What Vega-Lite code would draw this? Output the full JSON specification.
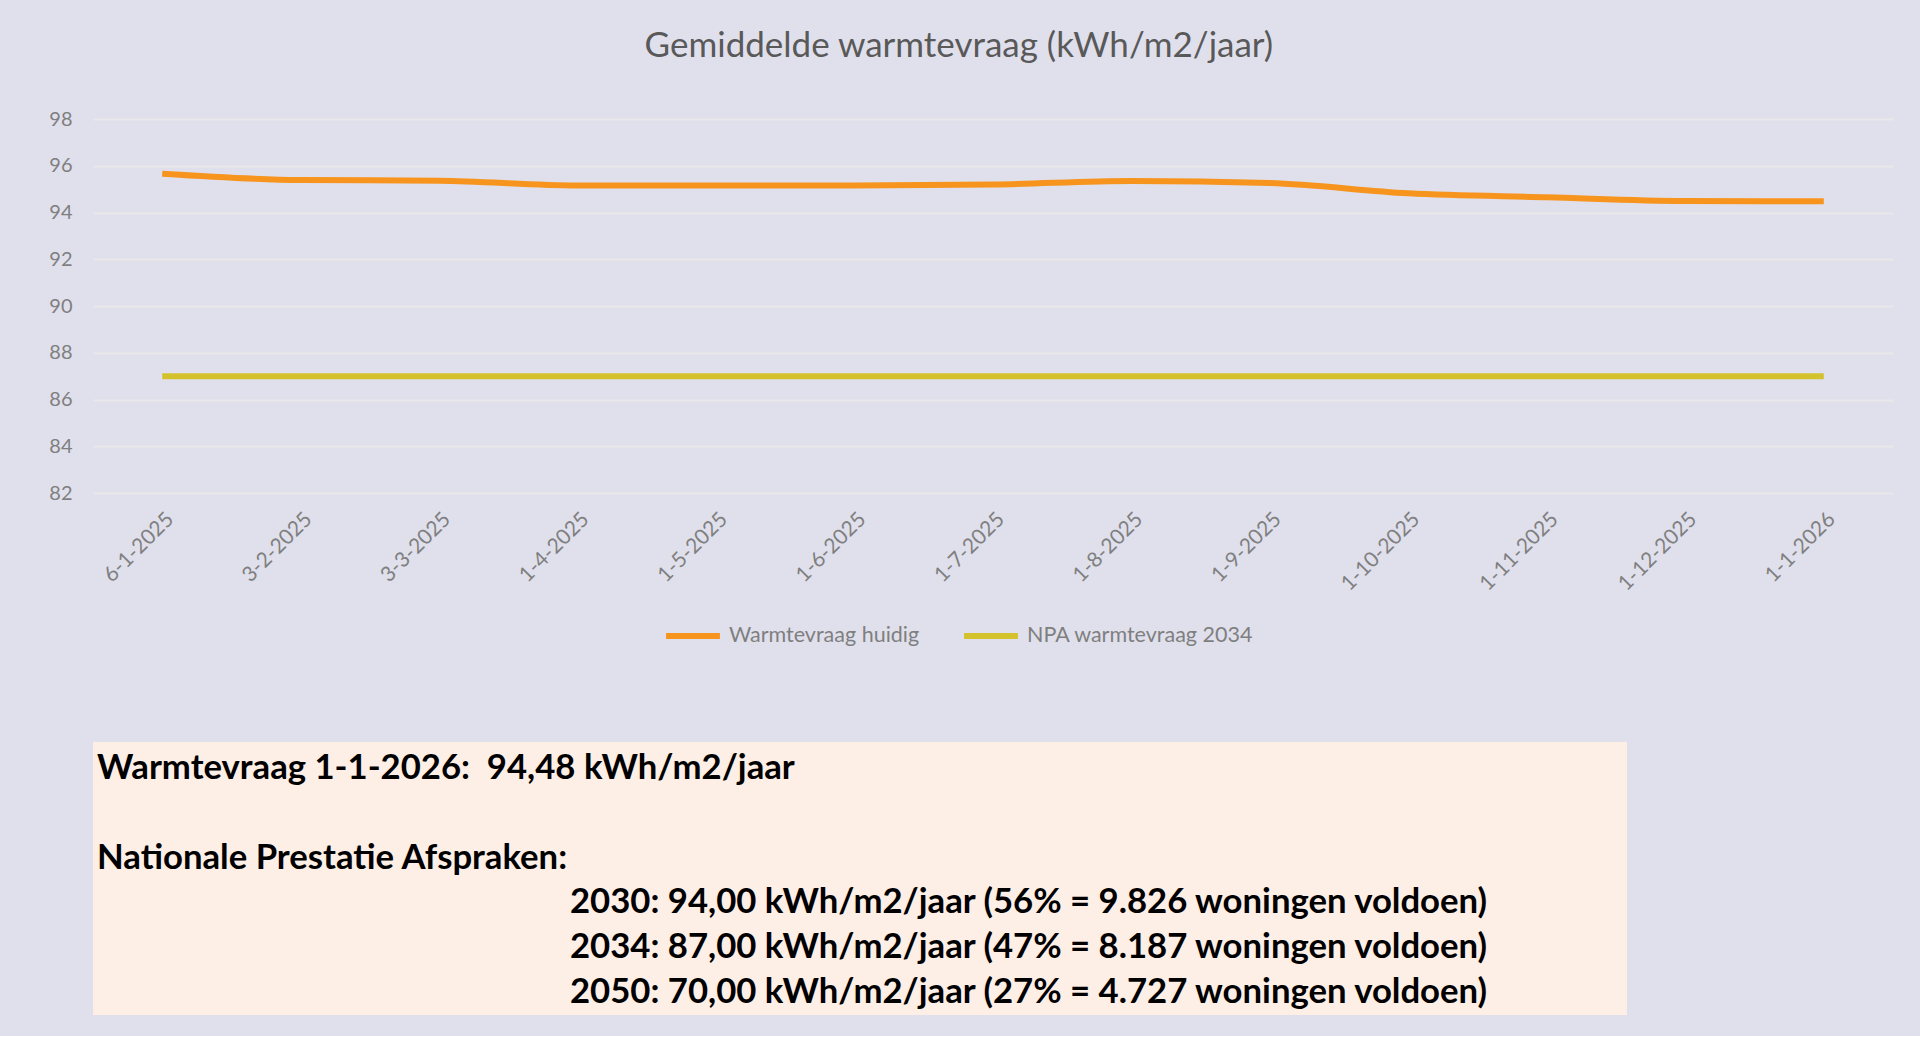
{
  "$schema": "https://vega.github.io/schema/vega-lite/v6.json",
  "description": "Gemiddelde warmtevraag per peildatum met NPA-doel 2034 en toelichting",
  "background": "#e0e0ec",
  "padding": {"left": 48, "top": 29, "right": 28, "bottom": 21},
  "title": {
    "text": "Gemiddelde warmtevraag (kWh/m2/jaar)",
    "anchor": "middle",
    "dx": -12,
    "font": "Lato",
    "fontSize": 35,
    "fontWeight": "normal",
    "color": "#595959",
    "offset": 45
  },
  "datasets": {
    "reeks": [
      {"datum": "6-1-2025", "serie": "Warmtevraag huidig", "waarde": 95.66},
      {"datum": "3-2-2025", "serie": "Warmtevraag huidig", "waarde": 95.39},
      {"datum": "3-3-2025", "serie": "Warmtevraag huidig", "waarde": 95.36},
      {"datum": "1-4-2025", "serie": "Warmtevraag huidig", "waarde": 95.16},
      {"datum": "1-5-2025", "serie": "Warmtevraag huidig", "waarde": 95.16},
      {"datum": "1-6-2025", "serie": "Warmtevraag huidig", "waarde": 95.16},
      {"datum": "1-7-2025", "serie": "Warmtevraag huidig", "waarde": 95.2},
      {"datum": "1-8-2025", "serie": "Warmtevraag huidig", "waarde": 95.35},
      {"datum": "1-9-2025", "serie": "Warmtevraag huidig", "waarde": 95.26},
      {"datum": "1-10-2025", "serie": "Warmtevraag huidig", "waarde": 94.82},
      {"datum": "1-11-2025", "serie": "Warmtevraag huidig", "waarde": 94.65},
      {"datum": "1-12-2025", "serie": "Warmtevraag huidig", "waarde": 94.49},
      {"datum": "1-1-2026", "serie": "Warmtevraag huidig", "waarde": 94.48},
      {"datum": "6-1-2025", "serie": "NPA warmtevraag 2034", "waarde": 87},
      {"datum": "3-2-2025", "serie": "NPA warmtevraag 2034", "waarde": 87},
      {"datum": "3-3-2025", "serie": "NPA warmtevraag 2034", "waarde": 87},
      {"datum": "1-4-2025", "serie": "NPA warmtevraag 2034", "waarde": 87},
      {"datum": "1-5-2025", "serie": "NPA warmtevraag 2034", "waarde": 87},
      {"datum": "1-6-2025", "serie": "NPA warmtevraag 2034", "waarde": 87},
      {"datum": "1-7-2025", "serie": "NPA warmtevraag 2034", "waarde": 87},
      {"datum": "1-8-2025", "serie": "NPA warmtevraag 2034", "waarde": 87},
      {"datum": "1-9-2025", "serie": "NPA warmtevraag 2034", "waarde": 87},
      {"datum": "1-10-2025", "serie": "NPA warmtevraag 2034", "waarde": 87},
      {"datum": "1-11-2025", "serie": "NPA warmtevraag 2034", "waarde": 87},
      {"datum": "1-12-2025", "serie": "NPA warmtevraag 2034", "waarde": 87},
      {"datum": "1-1-2026", "serie": "NPA warmtevraag 2034", "waarde": 87}
    ],
    "tekst": [
      {"regel": 1, "kolom": "kop", "tekst": "Warmtevraag 1-1-2026:\u00a0 94,48 kWh/m2/jaar"},
      {"regel": 3, "kolom": "kop", "tekst": "Nationale Prestatie Afspraken:"},
      {"regel": 4, "kolom": "npa", "tekst": "2030: 94,00 kWh/m2/jaar (56% = 9.826 woningen voldoen)"},
      {"regel": 5, "kolom": "npa", "tekst": "2034: 87,00 kWh/m2/jaar (47% = 8.187 woningen voldoen)"},
      {"regel": 6, "kolom": "npa", "tekst": "2050: 70,00 kWh/m2/jaar (27% = 4.727 woningen voldoen)"}
    ]
  },
  "spacing": 249,
  "bounds": "flush",
  "vconcat": [
    {
      "width": 1800,
      "height": 374,
      "data": {"name": "reeks"},
      "mark": {"type": "line", "interpolate": "monotone", "strokeWidth": 6},
      "encoding": {
        "x": {
          "field": "datum",
          "type": "ordinal",
          "sort": null,
          "axis": {
            "title": null,
            "domain": false,
            "ticks": false,
            "grid": false,
            "labelAngle": -45,
            "labelFont": "Lato",
            "labelFontSize": 21,
            "labelColor": "#7f7f7f",
            "labelPadding": 15
          }
        },
        "y": {
          "field": "waarde",
          "type": "quantitative",
          "scale": {"domain": [82, 98], "nice": false, "zero": false},
          "axis": {
            "title": null,
            "values": [82, 84, 86, 88, 90, 92, 94, 96, 98],
            "domain": false,
            "ticks": false,
            "grid": true,
            "gridColor": "#e9e7ea",
            "gridWidth": 2,
            "labelFont": "Lato",
            "labelFontSize": 20,
            "labelColor": "#7f7f7f",
            "labelPadding": 21
          }
        },
        "color": {
          "field": "serie",
          "type": "nominal",
          "sort": ["Warmtevraag huidig", "NPA warmtevraag 2034"],
          "scale": {"range": ["#f7941d", "#d4c22c"]},
          "legend": {
            "title": null,
            "orient": "none",
            "direction": "horizontal",
            "legendX": 570,
            "legendY": 487,
            "symbolType": "stroke",
            "symbolSize": 2900,
            "symbolStrokeWidth": 6,
            "labelFont": "Lato",
            "labelFontSize": 21.5,
            "labelColor": "#7f7f7f",
            "labelLimit": 0,
            "labelOffset": 6,
            "columnPadding": 32
          }
        }
      }
    },
    {
      "width": 1534,
      "height": 273,
      "view": {"fill": "#fdeee6", "stroke": null},
      "data": {"name": "tekst"},
      "mark": {
        "type": "text",
        "align": "left",
        "baseline": "middle",
        "font": "Lato",
        "fontWeight": "bold",
        "fontSize": 34.7,
        "color": "#000000"
      },
      "encoding": {
        "x": {
          "field": "kolom",
          "type": "nominal",
          "scale": {"type": "point", "domain": ["kop", "npa"], "range": [4, 477], "padding": 0},
          "axis": null
        },
        "y": {
          "field": "regel",
          "type": "ordinal",
          "scale": {"type": "point", "domain": [1, 2, 3, 4, 5, 6], "padding": 0.55, "align": 0.55},
          "axis": null
        },
        "text": {"field": "tekst"}
      }
    }
  ],
  "config": {
    "view": {"stroke": null}
  }
}
